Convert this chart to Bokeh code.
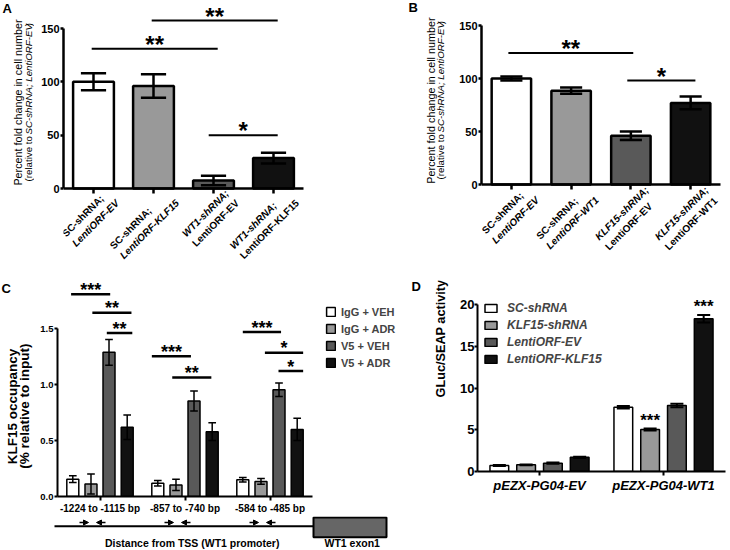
import math
from bokeh.plotting import figure
from bokeh.models import Legend, LegendItem, FixedTicker, Range1d, Arrow, NormalHead, NumeralTickFormatter
from bokeh.layouts import row, column
from bokeh.embed import file_html
from bokeh.resources import INLINE
from bokeh.core.properties import value

FONT = "Liberation Sans"

# ---------------- data ----------------
# Panel A
A_line1 = ["SC-shRNA;", "SC-shRNA;", "WT1-shRNA;", "WT1-shRNA;"]
A_line2 = ["LentiORF-EV", "LentiORF-KLF15", "LentiORF-EV", "LentiORF-KLF15"]
A_italic_first = [False, False, True, True]
A_values = [100.0, 96.0, 7.5, 28.5]
A_errors = [8.0, 11.0, 4.5, 5.0]
A_yticks = [0, 50, 100, 150]
A_sig_x1 = [0.47, 1.47, 2.42]
A_sig_x2 = [2.57, 3.57, 3.57]
A_sig_y = [131.0, 157.5, 50.0]
A_sig_text = ["**", "**", "*"]

# Panel B
B_line1 = ["SC-shRNA;", "SC-shRNA;", "KLF15-shRNA;", "KLF15-shRNA;"]
B_line2 = ["LentiORF-EV", "LentiORF-WT1", "LentiORF-EV", "LentiORF-WT1"]
B_italic_first = [False, False, True, True]
B_values = [100.0, 88.5, 46.0, 77.0]
B_errors = [2.0, 3.0, 4.0, 6.0]
B_yticks = [0, 50, 100, 150]
B_sig_x1 = [0.45, 2.44]
B_sig_x2 = [2.54, 3.58]
B_sig_y = [124.0, 98.0]
B_sig_text = ["**", "*"]

Y_TITLE_1 = [("Percent fold change in cell number", "normal")]
Y_TITLE_2 = [("(relative to ", "normal"), ("SC-shRNA; LentiORF-EV", "italic"), (")", "normal")]

# Panel C
C_groups = ["-1224 to -1115 bp", "-857 to -740 bp", "-584 to -485 bp"]
C_series = ["IgG + VEH", "IgG + ADR", "V5 + VEH", "V5 + ADR"]
C_values = [[0.155, 0.118, 0.150], [0.112, 0.104, 0.135], [1.29, 0.855, 0.955], [0.62, 0.58, 0.60]]
C_errors = [[0.03, 0.025, 0.02], [0.09, 0.05, 0.025], [0.115, 0.09, 0.06], [0.11, 0.08, 0.10]]
C_yticks = [0.0, 0.5, 1.0, 1.5]
C_sig_x1 = [0.16, 0.41, 0.58, 1.11, 1.35, 2.18, 2.44, 2.60]
C_sig_x2 = [0.62, 0.87, 0.88, 1.57, 1.81, 2.63, 2.89, 2.89]
C_sig_y = [1.81, 1.645, 1.462, 1.254, 1.064, 1.471, 1.287, 1.123]
C_sig_text = ["***", "**", "**", "***", "**", "***", "*", "*"]
C_ytitle = ["KLF15 occupancy", "(% relative to input)"]
C_xtitle = "Distance from TSS (WT1 promoter)"
C_exon = "WT1 exon1"

# Panel D
D_groups = ["pEZX-PG04-EV", "pEZX-PG04-WT1"]
D_series = ["SC-shRNA", "KLF15-shRNA", "LentiORF-EV", "LentiORF-KLF15"]
D_values = [[0.72, 7.7], [0.80, 5.03], [1.0, 7.9], [1.7, 18.3]]
D_errors = [[0.05, 0.15], [0.05, 0.12], [0.08, 0.2], [0.08, 0.45]]
D_yticks = [0, 5, 10, 15, 20]
D_star_series = [1, 3]
D_star_group = [1, 1]
D_star_y = [6.5, 20.1]
D_star_text = ["***", "***"]
D_ytitle = "GLuc/SEAP activity"

GRAYS = ["#ffffff", "#999999", "#595959", "#111111"]

# ---------------- text metrics (Arial / Liberation Sans) ----------------
REG = {' ': 278, '(': 333, ')': 333, ';': 278, '-': 333, '%': 889, '+': 584, '/': 278, '.': 278, '*': 389,
       'A': 667, 'B': 667, 'C': 722, 'D': 722, 'E': 667, 'F': 611, 'G': 778, 'H': 722, 'I': 278, 'K': 667,
       'L': 556, 'M': 833, 'N': 722, 'O': 778, 'P': 667, 'R': 722, 'S': 667, 'T': 611, 'U': 722, 'V': 667,
       'W': 944, 'X': 667, 'Z': 611, 'a': 556, 'b': 556, 'c': 500, 'd': 556, 'e': 556, 'f': 278, 'g': 556,
       'h': 556, 'i': 222, 'l': 222, 'm': 833, 'n': 556, 'o': 556, 'p': 556, 'r': 333, 's': 500, 't': 278,
       'u': 556, 'v': 500, 'x': 500, 'y': 500}
BOLD = {' ': 278, '(': 333, ')': 333, ';': 333, '-': 333, '%': 889, '+': 584, '/': 278, '.': 278, '*': 389,
        'A': 722, 'B': 722, 'C': 722, 'D': 722, 'E': 667, 'F': 611, 'G': 778, 'H': 722, 'I': 278, 'K': 722,
        'L': 611, 'M': 833, 'N': 722, 'O': 778, 'P': 667, 'R': 722, 'S': 667, 'T': 611, 'U': 722, 'V': 667,
        'W': 944, 'X': 667, 'Z': 611, 'a': 556, 'b': 611, 'c': 556, 'd': 611, 'e': 556, 'f': 333, 'g': 611,
        'h': 611, 'i': 278, 'l': 278, 'm': 889, 'n': 611, 'o': 611, 'p': 611, 'r': 389, 's': 556, 't': 333,
        'u': 611, 'v': 556, 'x': 556, 'y': 556}


def tw(s, size, bold=True):
    tbl = BOLD if bold else REG
    return sum(tbl.get(ch, 556) for ch in s) * size / 1000.0


C45 = math.cos(math.pi / 4)


def base_fig(x0, x1, y0, y1, xr, yr, left=0, bottom=0, axes=True):
    kw = {} if axes else dict(x_axis_location=None, y_axis_location=None)
    p = figure(width=x1 - x0, height=y1 - y0, x_range=Range1d(*xr), y_range=Range1d(*yr),
               min_border_left=left, min_border_right=0, min_border_top=0, min_border_bottom=bottom,
               output_backend="svg", toolbar_location=None, title=None, **kw)
    p.xgrid.visible = False
    p.ygrid.visible = False
    p.outline_line_color = None
    return p


class Geo:
    """maps picture pixels (y downward) to a figure's data coordinates"""
    def __init__(self, px0, x0, ppx, py0, y0, ppy):
        self.px0, self.x0, self.ppx, self.py0, self.y0, self.ppy = px0, x0, ppx, py0, y0, ppy

    def X(self, px):
        return self.x0 + (px - self.px0) / self.ppx

    def Y(self, py):
        return self.y0 + (self.py0 - py) / self.ppy

    def PX(self, x):
        return self.px0 + (x - self.x0) * self.ppx


def strip(x0, x1, y0, y1):
    p = base_fig(x0, x1, y0, y1, (x0, x1), (-y1, -y0), axes=False)
    return p, Geo(0, 0, 1, 0, 0, 1)


def put_text(p, x, y, text, size, style="bold", angle=0.0, align="left", baseline="middle"):
    p.text(x=[x], y=[y], text=[text], angle=angle, text_font=value(FONT),
           text_font_size=value(f"{size}px"), text_font_style=value(style),
           text_align=value(align), text_baseline=value(baseline), text_color="black")


def style_axis(ax, lw, tick_out, label_size, standoff, style="bold"):
    ax.axis_line_width = lw
    ax.axis_line_color = "black"
    ax.major_tick_line_width = lw
    ax.major_tick_line_color = "black"
    ax.major_tick_in = 0
    ax.major_tick_out = tick_out
    ax.minor_tick_line_color = None
    ax.major_label_text_font = FONT
    ax.major_label_text_font_style = style
    ax.major_label_text_font_size = f"{label_size}px"
    ax.major_label_standoff = standoff
    ax.major_label_text_color = "black"


def errbars(p, xs, tops, errs, cap, lw):
    lo = [t - e for t, e in zip(tops, errs)]
    hi = [t + e for t, e in zip(tops, errs)]
    p.segment(x0=xs, y0=lo, x1=xs, y1=hi, line_color="black", line_width=lw)
    xl = [x - cap / 2 for x in xs]
    xr = [x + cap / 2 for x in xs]
    p.segment(x0=xl, y0=hi, x1=xr, y1=hi, line_color="black", line_width=lw)
    p.segment(x0=xl, y0=lo, x1=xr, y1=lo, line_color="black", line_width=lw)


def sig(p, G, x1s, x2s, ys, texts, size, lw, gap):
    p.segment(x0=x1s, y0=ys, x1=x2s, y1=ys, line_color="black", line_width=lw)
    p.text(x=[(a + b) / 2 for a, b in zip(x1s, x2s)],
           y=[y + (gap - 0.17 * size) / G.ppy for y in ys], text=texts,
           text_font=value(FONT), text_font_size=value(f"{size}px"), text_font_style=value("bold"),
           text_align=value("center"), text_baseline=value("alphabetic"), text_color="black")


def rot_block(p, G, tick_px, axis_py, lines, styles, size, lh, dx, dy):
    """two left-aligned lines of text rotated by 45 degrees below a tick"""
    wmax = max(tw(t, size) for t in lines)
    bx, by = tick_px + dx, axis_py + dy
    sx, sy = bx - wmax * C45, by + wmax * C45
    sx, sy = sx - 0.3 * size * C45, sy - 0.3 * size * C45
    for k, (t, st) in enumerate(zip(lines, styles)):
        put_text(p, G.X(sx + k * lh * C45), G.Y(sy + k * lh * C45), t, size, st, angle=math.pi / 4)


def vtitle(p, G, cx, cy, segments, size, bold=False):
    total = sum(tw(t, size, bold) for t, _ in segments)
    py = cy + total / 2
    for t, st in segments:
        lead = tw(t[:len(t) - len(t.lstrip(" "))], size, bold)
        put_text(p, G.X(cx), G.Y(py - lead), t.strip(" "), size, st, angle=math.pi / 2)
        py -= tw(t, size, bold)


def bar_panel(x0, x1, G, line1, line2, italic_first, vals, errs, yticks,
              sx1, sx2, sy, stext, bar_w, cap, dx, dy):
    p = base_fig(x0, x1, 0, 280, (0, G.X(x1)), (G.Y(274), G.Y(0)),
                 left=G.px0 - x0, bottom=6)
    xs = [i + 0.5 for i in range(len(vals))]
    p.vbar(x=xs, top=vals, width=bar_w, fill_color=GRAYS, line_color="black", line_width=2.5)
    errbars(p, xs, vals, errs, cap, 2.5)
    sig(p, G, sx1, sx2, sy, stext, 24, 2, 8.5)
    style_axis(p.xaxis[0], 2.5, 5, 0, 0)
    p.xaxis.ticker = FixedTicker(ticks=xs)
    p.xaxis.fixed_location = 0
    p.xaxis.bounds = (0, len(vals))
    style_axis(p.yaxis[0], 2.5, 3, 11, 1)
    p.yaxis.ticker = FixedTicker(ticks=yticks)
    p.yaxis.bounds = (0, max(yticks))
    for i in range(len(vals)):
        st1 = "bold italic" if italic_first[i] else "bold"
        st2 = "bold" if italic_first[i] else "bold italic"
        rot_block(p, G, G.PX(xs[i]), G.py0, [line1[i], line2[i]], [st1, st2], 10, 14, dx, dy)
    return p


# ---------------- Panel A ----------------
gA = Geo(63, 0, 60.0, 188, 0, 160 / 150)
mA = bar_panel(34, 365, gA, A_line1, A_line2, A_italic_first, A_values, A_errors, A_yticks,
               A_sig_x1, A_sig_x2, A_sig_y, A_sig_text, 0.68, 0.42, 16, 5)
sA, hA = strip(0, 34, 0, 280)
put_text(sA, hA.X(2), hA.Y(8), "A", 13)
vtitle(sA, hA, 17, 106, Y_TITLE_1, 10.8)
vtitle(sA, hA, 27.5, 104, Y_TITLE_2, 9.7)

# ---------------- Panel B ----------------
gB = Geo(481, 0, 59.75, 184, 0, 159 / 150)
mB = bar_panel(455, 729, gB, B_line1, B_line2, B_italic_first, B_values, B_errors, B_yticks,
               B_sig_x1, B_sig_x2, B_sig_y, B_sig_text, 0.66, 0.37, 18, 6)
sB, hB = strip(365, 455, 0, 280)
put_text(sB, hB.X(408), hB.Y(7.5), "B", 13)
vtitle(sB, hB, 430, 104, Y_TITLE_1, 10.8)
vtitle(sB, hB, 440, 102, Y_TITLE_2, 9.7)

# ---------------- Panel C ----------------
gC = Geo(57, 0, 85.0, 497, 0, 112.27)
mC = base_fig(36, 400, 280, 516, (0, 343 / 85.0), (0, gC.Y(280)), left=21, bottom=19)
C_off = [-0.32, -0.106, 0.106, 0.32]
C_gx = [g + 0.5 for g in range(len(C_groups))]
c_items = []
for k, name in enumerate(C_series):
    xs = [x + C_off[k] for x in C_gx]
    r = mC.vbar(x=xs, top=C_values[k], width=0.141, fill_color=GRAYS[k], line_color="black", line_width=1.5)
    errbars(mC, xs, C_values[k], C_errors[k], 0.09, 1.5)
    c_items.append(LegendItem(label=name, renderers=[r]))
sig(mC, gC, C_sig_x1, C_sig_x2, C_sig_y, C_sig_text, 18, 2.5, 7.5)
style_axis(mC.xaxis[0], 2, 4, 10, 2)
mC.xaxis.ticker = FixedTicker(ticks=C_gx)
mC.xaxis.major_label_overrides = {x: g for x, g in zip(C_gx, C_groups)}
mC.xaxis.bounds = (0, 3)
style_axis(mC.yaxis[0], 2, 3, 9.5, 1)
mC.yaxis.ticker = FixedTicker(ticks=C_yticks)
mC.yaxis.formatter = NumeralTickFormatter(format="0.0")
mC.yaxis.bounds = (0, 1.5)
legC = Legend(items=c_items, location=(268, 127), orientation="vertical", glyph_width=11, glyph_height=11,
              label_height=13, spacing=4, padding=0, margin=0, label_standoff=5,
              label_text_font=FONT, label_text_font_size="11px", label_text_font_style="bold",
              border_line_alpha=0, background_fill_alpha=0)
mC.add_layout(legC)

sC, hC = strip(0, 36, 280, 516)
put_text(sC, hC.X(1), hC.Y(288.5), "C", 13)
vtitle(sC, hC, 11.5, 423, [(C_ytitle[0], "bold")], 13.5, bold=True)
vtitle(sC, hC, 24, 423, [(C_ytitle[1], "bold")], 13.5, bold=True)

bC, hbC = strip(0, 400, 516, 549)
bC.segment(x0=[54], y0=[hbC.Y(525.7)], x1=[313], y1=[hbC.Y(525.7)], line_color="black", line_width=2)
bC.quad(left=[313], right=[386], bottom=[hbC.Y(536.7)], top=[hbC.Y(517)], fill_color="#666666",
        line_color="black", line_width=2)
for x in C_gx:
    gpx = gC.PX(x)
    for xs_, xe_ in ((gpx - 20.5, gpx - 11.5), (gpx + 5.5, gpx - 3.5)):
        bC.add_layout(Arrow(end=NormalHead(size=5, fill_color="black", line_color="black", line_width=1),
                            x_start=xs_, y_start=hbC.Y(522), x_end=xe_, y_end=hbC.Y(522),
                            line_color="black", line_width=1.5))
put_text(bC, 191.7, hbC.Y(542.7), C_xtitle, 10.5, align="center")
put_text(bC, 351.7, hbC.Y(542.7), C_exon, 10.5, align="center")

# ---------------- Panel D ----------------
gD = Geo(477, 0, 124.0, 471, 0, 8.35)
mD = base_fig(452, 729, 280, 549, (0, 252 / 124.0), (0, gD.Y(280)), left=25, bottom=78)
D_off = [-0.324, -0.108, 0.108, 0.324]
D_gx = [g + 0.5 for g in range(len(D_groups))]
d_items = []
for k, name in enumerate(D_series):
    xs = [x + D_off[k] for x in D_gx]
    r = mD.vbar(x=xs, top=D_values[k], width=0.151, fill_color=GRAYS[k], line_color="black", line_width=1.5)
    errbars(mD, xs, D_values[k], D_errors[k], 0.105, 2)
    d_items.append(LegendItem(label=name, renderers=[r]))
mD.text(x=[D_gx[g] + D_off[s] for s, g in zip(D_star_series, D_star_group)],
        y=[y - 0.17 * 17 / gD.ppy for y in D_star_y], text=D_star_text, text_font=value(FONT),
        text_font_size=value("17px"), text_font_style=value("bold"), text_align=value("center"),
        text_baseline=value("alphabetic"), text_color="black")
style_axis(mD.xaxis[0], 2, 4, 13, 2, style="bold italic")
mD.xaxis.ticker = FixedTicker(ticks=D_gx)
mD.xaxis.major_label_overrides = {x: g for x, g in zip(D_gx, D_groups)}
mD.xaxis.bounds = (0, 2)
style_axis(mD.yaxis[0], 2, 3, 13, 0)
mD.yaxis.ticker = FixedTicker(ticks=D_yticks)
mD.yaxis.bounds = (0, 20)
legD = Legend(items=d_items, location=(6, 105), orientation="vertical", glyph_width=15, glyph_height=10,
              label_height=14, spacing=3, padding=0, margin=0, label_standoff=9,
              label_text_font=FONT, label_text_font_size="12px", label_text_font_style="bold italic",
              border_line_alpha=0, background_fill_alpha=0)
mD.add_layout(legD)

sD, hD = strip(400, 452, 280, 549)
put_text(sD, 411, hD.Y(288.5), "D", 13)
vtitle(sD, hD, 440, 385.8, [(D_ytitle, "bold")], 12.7, bold=True)

layout = column(
    row(sA, mA, sB, mB),
    row(column(row(sC, mC), bC), sD, mD),
)
open("out.html", "w").write(file_html(layout, INLINE))
